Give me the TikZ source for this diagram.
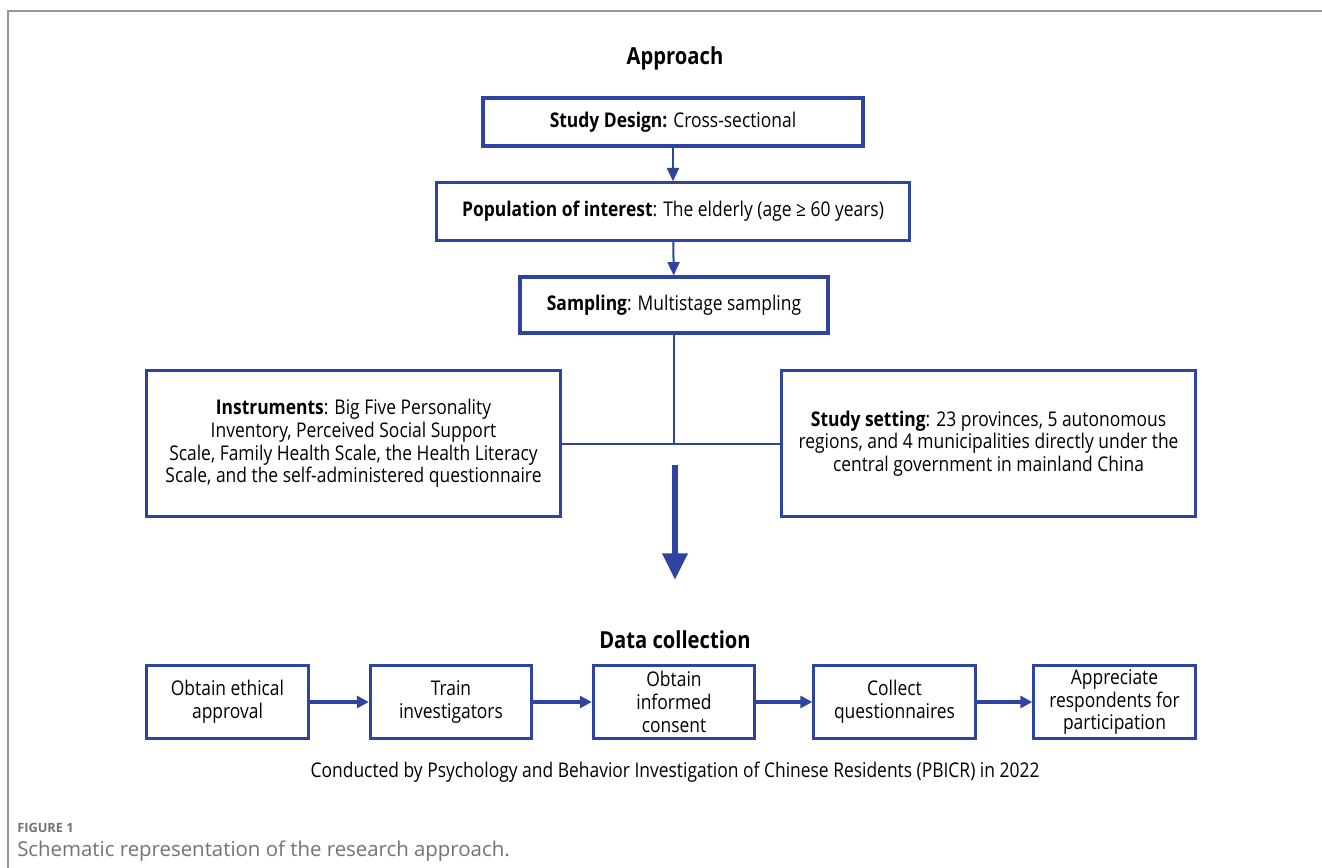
\documentclass[tikz,border=0pt]{standalone}
\usepackage{fontspec}
\setmainfont{Open Sans}
\newfontfamily\boxfont[FakeStretch=0.86]{Open Sans}
\usetikzlibrary{arrows.meta}
\definecolor{boxblue}{RGB}{46,68,160}
\definecolor{framegray}{RGB}{150,150,150}
\definecolor{capgray}{RGB}{115,115,115}

\begin{document}
\begin{tikzpicture}[x=0.75pt, y=-0.75pt,
    stepbox/.style={draw=boxblue, line width=2.3pt, align=center, inner sep=0pt,
        font=\boxfont\fontsize{15.2}{17}\selectfont},
    link/.style={draw=boxblue, line width=1.5pt, -{Triangle[length=10pt, width=9pt]}},
    flow/.style={draw=boxblue, line width=2.3pt, -{Triangle[length=9pt, width=9pt]}},
    heading/.style={font=\boxfont\bfseries\fontsize{17.6}{20}\selectfont}]
    \useasboundingbox (0,0) rectangle (1322,868);
    \draw[framegray, line width=0.9pt] (8,868) -- (8,11) -- (1322,11);

    % approach
    \node[heading] (approach) at (675,58) {Approach};
    \node[stepbox, minimum width=285pt, minimum height=36pt] (design) at (673,122)
        {\textbf{Study Design:} Cross-sectional};
    \node[stepbox, minimum width=355pt, minimum height=43pt] (population) at (673,211.5)
        {\textbf{Population of interest}: The elderly (age ≥ 60 years)};
    \node[stepbox, minimum width=231pt, minimum height=42pt] (sampling) at (674,305)
        {\textbf{Sampling}: Multistage sampling};
    \node[stepbox, minimum width=310pt, minimum height=110pt] (instruments) at (353.5,443.5)
        {\textbf{Instruments}: Big Five Personality\\ Inventory, Perceived Social Support\\
         Scale, Family Health Scale, the Health Literacy\\ Scale, and the self-administered questionnaire};
    \node[stepbox, minimum width=311pt, minimum height=110pt] (setting) at (988.5,443.5)
        {\textbf{Study setting}: 23 provinces, 5 autonomous\\ regions, and 4 municipalities directly under the\\
         central government in mainland China};
    \draw[link] (design) -- (population);
    \draw[link] (population) -- (sampling);
    \draw[boxblue, line width=1.5pt] (sampling.south) -- (sampling.south |- instruments.east);
    \draw[boxblue, line width=1.5pt] (instruments) -- (setting);

    % big arrow
    \coordinate (bigstart) at (675,465);
    \coordinate (bigend) at (675,580);
    \draw[boxblue, line width=5pt, -{Triangle[length=20pt, width=18pt]}] (bigstart) -- (bigend);

    % data collection
    \node[heading] (collection) at (675,640) {Data collection};
    \foreach \name/\cx/\txt in {ethics/227.5/{Obtain ethical\\ approval},
                                train/451/{Train\\ investigators},
                                consent/674/{Obtain\\ informed\\ consent},
                                collect/894.5/{Collect\\ questionnaires},
                                thanks/1114.5/{Appreciate\\ respondents for\\ participation}}
        \node[stepbox, minimum width=121pt, minimum height=55pt] (\name) at (\cx,702) {\txt};
    \draw[flow] (ethics) -- (train);
    \draw[flow] (train) -- (consent);
    \draw[flow] (consent) -- (collect);
    \draw[flow] (collect) -- (thanks);
    \node[font=\boxfont\fontsize{15.2}{17}\selectfont] (pbicr) at (675,772)
        {Conducted by Psychology and Behavior Investigation of Chinese Residents (PBICR) in 2022};

    % caption
    \node[anchor=west, inner sep=0pt, text=capgray, font=\bfseries\fontsize{9.6}{11}\selectfont] (figlabel) at (17,828) {FIGURE 1};
    \node[anchor=west, inner sep=0pt, text=capgray, font=\fontsize{15.3}{18}\selectfont] (caption) at (17,851)
        {Schematic representation of the research approach.};
\end{tikzpicture}
\end{document}
